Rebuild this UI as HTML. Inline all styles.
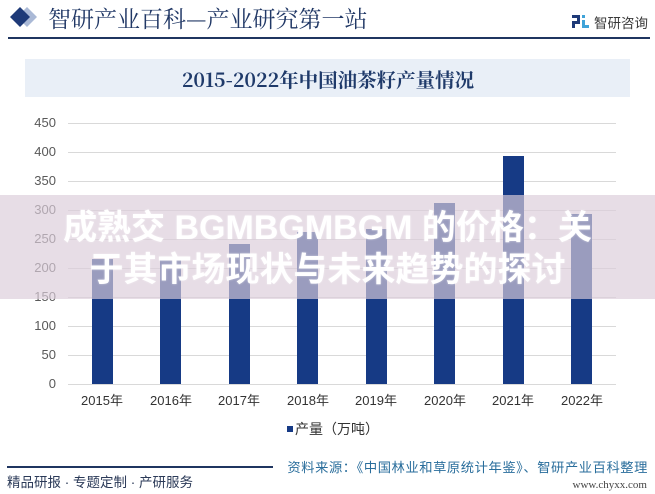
<!DOCTYPE html>
<html>
<head>
<meta charset="utf-8">
<style>
  html,body{margin:0;padding:0;}
  body{width:655px;height:494px;position:relative;overflow:hidden;background:#ffffff;
       font-family:"Liberation Sans","Noto Sans CJK SC",sans-serif;}
  .abs{position:absolute;white-space:nowrap;}
  .yl{position:absolute;right:599px;width:40px;text-align:right;font-size:13px;color:#595959;line-height:14px;}
  .xl{position:absolute;width:68px;text-align:center;font-size:13px;color:#333;line-height:14px;top:394px;}
  .grid{position:absolute;left:68px;width:548px;height:1px;background:#d9d9d9;}
  .bar{position:absolute;width:21px;background:#163a85;}
</style>
</head>
<body>

<!-- header -->
<svg class="abs" style="left:0;top:0" width="60" height="36">
  <polygon points="27,7 37,17 27,27 17,17" fill="#aab9d6"/>
  <polygon points="20,7 30,17 20,27 10,17" fill="#1e3a78"/>
</svg>
<div class="abs" style="left:48px;top:5px;font-family:'Noto Serif CJK SC','Liberation Serif',serif;font-size:23px;line-height:26px;color:#213866;">智研产业百科—产业研究第一站</div>

<svg class="abs" style="left:572px;top:15px" width="18" height="14">
  <rect x="0" y="0" width="8" height="3" fill="#1e3a78"/>
  <rect x="5" y="3" width="3" height="4" fill="#1e3a78"/>
  <rect x="0" y="6" width="8" height="3" fill="#1e3a78"/>
  <rect x="0" y="9" width="3" height="4" fill="#1e3a78"/>
  <rect x="10" y="0" width="3" height="3" fill="#3fa3d8"/>
  <rect x="10" y="5" width="3" height="8" fill="#3fa3d8"/>
  <rect x="13" y="10" width="4" height="3" fill="#3fa3d8"/>
</svg>
<div class="abs" style="left:594px;top:13px;font-size:13.5px;line-height:18px;color:#3a3a3a;font-family:'Noto Sans CJK SC',sans-serif;">智研咨询</div>
<div class="abs" style="left:8px;top:37px;width:642px;height:2px;background:#1f3560;"></div>

<!-- title box -->
<div class="abs" style="left:25px;top:59px;width:605px;height:38px;background:#e9eff7;"></div>
<div class="abs" style="left:25px;top:66px;width:606px;text-align:center;font-family:'Noto Serif CJK SC','Liberation Serif',serif;font-weight:bold;font-size:19.5px;line-height:26px;color:#1f3a6a;">2015-2022年中国油茶籽产量情况</div>

<!-- gridlines -->
<div class="grid" style="top:123px"></div>
<div class="grid" style="top:152px"></div>
<div class="grid" style="top:181px"></div>
<div class="grid" style="top:210px"></div>
<div class="grid" style="top:239px"></div>
<div class="grid" style="top:268px"></div>
<div class="grid" style="top:297px"></div>
<div class="grid" style="top:326px"></div>
<div class="grid" style="top:355px"></div>
<div class="grid" style="top:384px"></div>

<!-- y labels -->
<div class="yl" style="top:116px">450</div>
<div class="yl" style="top:145px">400</div>
<div class="yl" style="top:174px">350</div>
<div class="yl" style="top:203px">300</div>
<div class="yl" style="top:232px">250</div>
<div class="yl" style="top:261px">200</div>
<div class="yl" style="top:290px">150</div>
<div class="yl" style="top:319px">100</div>
<div class="yl" style="top:348px">50</div>
<div class="yl" style="top:377px">0</div>

<!-- bars -->
<div class="bar" style="left:92px;top:259px;height:125px"></div>
<div class="bar" style="left:160px;top:259px;height:125px"></div>
<div class="bar" style="left:229px;top:244px;height:140px"></div>
<div class="bar" style="left:297px;top:232px;height:152px"></div>
<div class="bar" style="left:366px;top:229px;height:155px"></div>
<div class="bar" style="left:434px;top:203px;height:181px"></div>
<div class="bar" style="left:503px;top:156px;height:228px"></div>
<div class="bar" style="left:571px;top:214px;height:170px"></div>

<!-- x labels -->
<div class="xl" style="left:68px">2015年</div>
<div class="xl" style="left:137px">2016年</div>
<div class="xl" style="left:205px">2017年</div>
<div class="xl" style="left:274px">2018年</div>
<div class="xl" style="left:342px">2019年</div>
<div class="xl" style="left:411px">2020年</div>
<div class="xl" style="left:479px">2021年</div>
<div class="xl" style="left:548px">2022年</div>

<!-- legend -->
<div class="abs" style="left:287px;top:426px;width:6px;height:6px;background:#163a85;"></div>
<div class="abs" style="left:295px;top:420px;font-size:14px;line-height:18px;color:#333;font-family:'Noto Sans CJK SC',sans-serif;">产量（万吨）</div>

<!-- footer -->
<div class="abs" style="left:7px;top:466px;width:266px;height:1.5px;background:#1f3560;"></div>
<div class="abs" style="left:7px;top:474px;font-size:13.5px;line-height:18px;color:#2b3a58;font-family:'Liberation Sans','Noto Sans CJK SC',sans-serif;">精品研报 · 专题定制 · 产研服务</div>
<div class="abs" style="right:7px;top:458px;font-size:13.3px;line-height:18px;color:#2a6e9c;font-family:'Noto Sans CJK SC',sans-serif;letter-spacing:0.55px;">资料来源：《中国林业和草原统计年鉴》、智研产业百科整理</div>
<div class="abs" style="right:8px;top:478px;font-size:11px;line-height:14px;color:#444;font-family:'Liberation Serif',serif;">www.chyxx.com</div>

<!-- overlay band -->
<div class="abs" style="left:0;top:195px;width:655px;height:104px;background:rgba(219,204,218,0.67);"></div>
<div class="abs" style="left:0;top:207px;width:655px;text-align:center;font-weight:bold;font-size:34px;line-height:42px;color:#ffffff;font-family:'Liberation Sans','Noto Sans CJK SC',sans-serif;text-shadow:0 0 2px rgba(255,255,255,0.5);">成熟交 BGMBGMBGM 的价格：关<br>于其市场现状与未来趋势的探讨</div>

</body>
</html>
